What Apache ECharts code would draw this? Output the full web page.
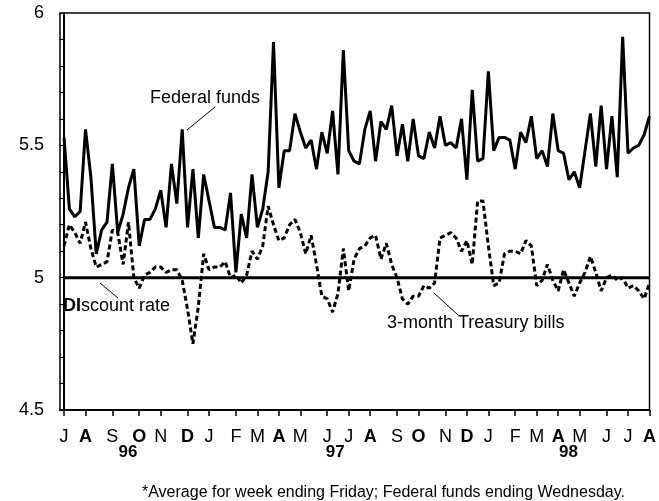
<!DOCTYPE html>
<html>
<head>
<meta charset="utf-8">
<script src="https://cdn.jsdelivr.net/npm/echarts@6/dist/echarts.min.js"></script>
<style>
  html, body { margin: 0; padding: 0; background: #fff; }
  #chart { width: 659px; height: 501px; }
</style>
</head>
<body>
<div id="chart"></div>
<script>
// weekly averages, Jul 96 - Aug 98 (week 0 = first week of July 1996)
const fedFunds = [
  5.53, 5.26, 5.23, 5.25, 5.56, 5.38, 5.09, 5.18, 5.21, 5.43,
  5.17, 5.24, 5.34, 5.41, 5.12, 5.22, 5.22, 5.26, 5.33, 5.19,
  5.43, 5.28, 5.56, 5.19, 5.41, 5.15, 5.39, 5.29, 5.19, 5.19,
  5.18, 5.32, 5.02, 5.24, 5.15, 5.39, 5.19, 5.26, 5.40, 5.89,
  5.34, 5.48, 5.48, 5.62, 5.55, 5.49, 5.52, 5.41, 5.55, 5.47,
  5.63, 5.39, 5.86, 5.48, 5.44, 5.43, 5.56, 5.63, 5.44, 5.59,
  5.56, 5.65, 5.46, 5.58, 5.44, 5.60, 5.46, 5.45, 5.55, 5.49,
  5.61, 5.50, 5.51, 5.49, 5.60, 5.37, 5.71, 5.44, 5.45, 5.78,
  5.48, 5.53, 5.53, 5.52, 5.41, 5.55, 5.51, 5.61, 5.45, 5.48,
  5.42, 5.62, 5.48, 5.47, 5.37, 5.40, 5.34, 5.48, 5.62, 5.42,
  5.65, 5.41, 5.61, 5.38, 5.91, 5.47, 5.49, 5.50, 5.54, 5.61
]
const tBills = [
  5.12, 5.20, 5.17, 5.13, 5.21, 5.11, 5.04, 5.05, 5.06, 5.18,
  5.17, 5.05, 5.21, 5.00, 4.96, 5.01, 5.02, 5.04, 5.04, 5.02,
  5.03, 5.03, 4.99, 4.88, 4.75, 4.89, 5.09, 5.03, 5.04, 5.04,
  5.06, 5.00, 5.01, 4.98, 5.01, 5.10, 5.07, 5.12, 5.27, 5.20,
  5.14, 5.15, 5.20, 5.22, 5.17, 5.09, 5.16, 5.05, 4.93, 4.92,
  4.87, 4.94, 5.11, 4.95, 5.07, 5.11, 5.12, 5.15, 5.16, 5.07,
  5.13, 5.05, 5.00, 4.92, 4.90, 4.93, 4.93, 4.97, 4.96, 4.98,
  5.15, 5.16, 5.17, 5.15, 5.10, 5.14, 5.05, 5.29, 5.29, 5.12,
  4.97, 4.98, 5.09, 5.10, 5.10, 5.09, 5.14, 5.12, 4.97, 4.99,
  5.05, 4.99, 4.95, 5.03, 4.98, 4.93, 4.98, 5.02, 5.08, 5.02,
  4.95, 5.00, 5.01, 4.99, 5.00, 4.96, 4.97, 4.95, 4.92, 4.98
]
const discountRate = [5.0, 5.0]
const discountWeeks = [0, 109]

// first week of each month (tick positions) and month letters
const monthWeeks = [0, 4, 9, 14, 18, 23, 27, 32, 36, 40, 44, 49, 53, 57, 62, 66, 71, 75, 79, 84, 88, 92, 96, 101, 105, 109]
const monthLabels = ['J','A','S','O','N','D','J','F','M','A','M','J','J','A','S','O','N','D','J','F','M','A','M','J','J','A']
const boldMonths = ['A', 'O', 'D']
const yearWeeks = [11.9, 50.5, 93.9]
const yearLabels = ['96', '97', '98']

const FONT = 'Liberation Sans, Arial, sans-serif'
const toPairs = (vals) => vals.map((v, i) => [i, v])

const chart = echarts.init(document.getElementById('chart'))

const xMin = -0.75
const xMax = 109

chart.setOption({
  animation: false,
  textStyle: { fontFamily: FONT, color: '#000' },
  grid: {
    left: 60, right: 7, top: 13, bottom: 91,
    show: true, borderColor: '#000', borderWidth: 1.5
  },
  title: {
    text: '*Average for week ending Friday; Federal funds ending Wednesday.',
    left: 137, top: 480,
    textStyle: { fontSize: 16, fontWeight: 'normal', color: '#000', fontFamily: FONT }
  },
  xAxis: [
    {
      type: 'value', min: xMin, max: xMax,
      splitLine: { show: false },
      axisLine: { lineStyle: { color: '#000', width: 2 } },
      axisTick: { show: true, customValues: monthWeeks, length: 6, lineStyle: { color: '#000', width: 1.5 } },
      axisLabel: {
        customValues: monthWeeks,
        margin: 18,
        formatter: (val) => {
          const idx = monthWeeks.indexOf(val)
          const m = monthLabels[idx] || ''
          return boldMonths.includes(m) ? '{b|' + m + '}' : '{n|' + m + '}'
        },
        rich: {
          n: { fontSize: 18, color: '#000', fontFamily: FONT },
          b: { fontSize: 18, fontWeight: 'bold', color: '#000', fontFamily: FONT }
        }
      }
    },
    {
      type: 'value', min: xMin, max: xMax, position: 'bottom', offset: 18,
      splitLine: { show: false },
      axisLine: { show: false },
      axisTick: { show: false },
      axisLabel: {
        customValues: yearWeeks,
        margin: 16,
        fontSize: 17,
        fontWeight: 'bold',
        color: '#000',
        formatter: (val) => yearLabels[yearWeeks.indexOf(val)] || ''
      }
    }
  ],
  yAxis: {
    type: 'value', min: 4.5, max: 6, interval: 0.5,
    splitLine: { show: false },
    axisLine: { show: true, lineStyle: { color: '#000', width: 2 } },
    axisTick: { show: true, length: 5, lineStyle: { color: '#000', width: 1.2 } },
    minorTick: { show: true, splitNumber: 5, length: 5, lineStyle: { color: '#000', width: 1.2 } },
    axisLabel: { fontSize: 18, color: '#000', margin: 16, formatter: (v) => String(v) }
  },
  series: [
    {
      name: 'Discount rate',
      type: 'line',
      data: discountRate.map((v, i) => [discountWeeks[i], v]),
      symbol: 'none',
      lineStyle: { color: '#000', width: 3 },
      z: 3
    },
    {
      name: '3-month Treasury bills',
      type: 'line',
      data: toPairs(tBills),
      symbol: 'none',
      lineStyle: { color: '#000', width: 3, type: [5, 3] },
      z: 4
    },
    {
      name: 'Federal funds',
      type: 'line',
      data: toPairs(fedFunds),
      symbol: 'none',
      lineStyle: { color: '#000', width: 3 },
      z: 5
    }
  ],
  // text labels and leader lines
  graphic: [
    { type: 'text', left: 150, top: 89, style: { text: 'Federal funds', fontSize: 18, fill: '#000', fontFamily: FONT } },
    { type: 'line', shape: { x1: 215, y1: 107, x2: 187, y2: 130 }, style: { stroke: '#000', lineWidth: 1 } },
    {
      type: 'text', left: 63, top: 297,
      style: {
        text: '{b|DI}{n|scount rate}',
        rich: {
          b: { fontSize: 18, fontWeight: 'bold', fill: '#000', fontFamily: FONT },
          n: { fontSize: 18, fill: '#000', fontFamily: FONT }
        }
      }
    },
    { type: 'line', shape: { x1: 100, y1: 283, x2: 118, y2: 298 }, style: { stroke: '#000', lineWidth: 1 } },
    { type: 'text', left: 387, top: 314, style: { text: '3-month Treasury bills', fontSize: 18, fill: '#000', fontFamily: FONT } },
    { type: 'line', shape: { x1: 434, y1: 293, x2: 458, y2: 315 }, style: { stroke: '#000', lineWidth: 1 } }
  ]
})
</script>
</body>
</html>
